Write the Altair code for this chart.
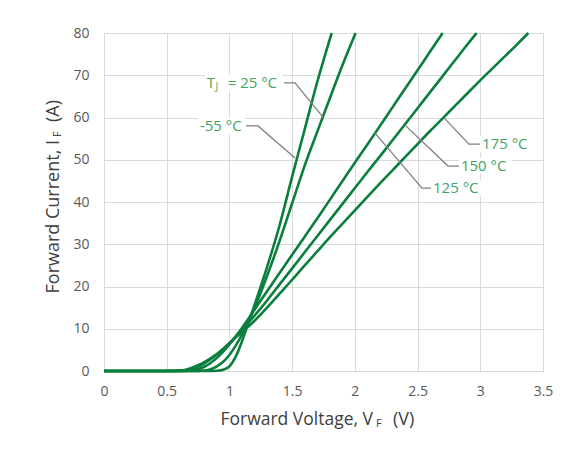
import altair as alt
import pandas as pd

# ---------------- data ----------------
v_m55 = [0, 0.5, 0.85, 0.9, 0.95, 1.0, 1.05, 1.1, 1.15, 1.2, 1.25, 1.3, 1.4, 1.5, 1.6, 1.7, 1.815]
i_m55 = [0, 0, 0, 0.05, 0.3, 1.1, 3.4, 7.0, 11.3, 15.6, 20.0, 24.6, 34.5, 46.0, 57.2, 68.4, 80]

v_25 = [0, 0.5, 0.75, 0.8, 0.85, 0.9, 0.95, 1.0, 1.05, 1.1, 1.15, 1.2, 1.3, 1.4, 1.5, 1.6, 1.7, 1.8, 1.9, 2.006]
i_25 = [0, 0, 0, 0.1, 0.4, 1.1, 2.2, 3.8, 6.0, 8.6, 11.6, 14.9, 22.5, 30.8, 39.7, 48.6, 56.6, 64.5, 72.3, 80]

v_125 = [0, 0.5, 0.65, 0.7, 0.75, 0.8, 0.85, 0.9, 0.95, 1.0, 1.05, 1.1, 1.15, 1.2, 1.3, 1.4, 1.5,
         1.6, 1.7, 1.8, 1.9, 2.0, 2.1, 2.2, 2.3, 2.4, 2.5, 2.6, 2.70]
i_125 = [0, 0, 0.02, 0.1, 0.4, 1.0, 1.9, 3.1, 4.6, 6.3, 8.2, 10.2, 12.3, 14.5, 18.9, 23.2, 27.5,
         31.8, 36.1, 40.5, 44.9, 49.3, 53.6, 58.0, 62.4, 66.8, 71.2, 75.6, 80]

v_150 = [0, 0.5, 0.6, 0.65, 0.7, 0.75, 0.8, 0.85, 0.9, 0.95, 1.0, 1.05, 1.1, 1.15, 1.2, 1.3, 1.4, 1.5,
         1.6, 1.7, 1.8, 1.9, 2.0, 2.1, 2.2, 2.3, 2.4, 2.5, 2.6, 2.7, 2.8, 2.9, 2.971]
i_150 = [0, 0, 0.03, 0.15, 0.45, 1.0, 1.8, 2.8, 3.9, 5.2, 6.6, 8.1, 9.7, 11.4, 13.1, 16.7, 20.5, 24.3,
         28.1, 31.9, 35.7, 39.5, 43.3, 47.1, 50.8, 54.6, 58.4, 62.2, 66.0, 69.8, 73.6, 77.4, 80]

v_175 = [0, 0.5, 0.55, 0.6, 0.65, 0.7, 0.75, 0.8, 0.85, 0.9, 0.95, 1.0, 1.05, 1.1, 1.15, 1.2, 1.3, 1.4,
         1.5, 1.6, 1.7, 1.8, 1.9, 2.0, 2.1, 2.2, 2.3, 2.4, 2.5, 2.6, 2.7, 2.8, 2.9, 3.0, 3.1, 3.2, 3.3, 3.383]
i_175 = [0, 0, 0.02, 0.1, 0.3, 0.75, 1.35, 2.1, 3.0, 4.0, 5.2, 6.6, 7.9, 9.2, 10.5, 11.9, 15.0, 18.3,
         21.6, 25.0, 28.3, 31.6, 34.8, 38.0, 41.2, 44.4, 47.5, 50.6, 53.7, 56.8, 59.8, 62.8, 65.8, 68.8,
         71.7, 74.6, 77.5, 80]

series_names = ["-55 °C", "25 °C", "125 °C", "150 °C", "175 °C"]
series_v = [v_m55, v_25, v_125, v_150, v_175]
series_i = [i_m55, i_25, i_125, i_150, i_175]

x_ticks = [0, 0.5, 1, 1.5, 2, 2.5, 3, 3.5]
y_ticks = [0, 10, 20, 30, 40, 50, 60, 70, 80]

# annotation labels (text, anchor V, anchor I)
label_text = ["T", "= 25 °C", "-55 °C", "175 °C", "150 °C", "125 °C"]
label_v = [0.82, 0.986, 0.765, 3.014, 2.846, 2.623]
label_i = [68.2, 68.2, 58.0, 53.7, 48.5, 43.3]
sub_text = ["J"]
sub_v = [0.889]
sub_i = [68.2]

# leader lines: label id, points (V, I)
leader_ids = ["25", "-55", "175", "150", "125"]
leader_v = [[1.435, 1.523, 1.746], [1.132, 1.228, 1.523], [2.711, 2.910, 2.998],
            [2.400, 2.743, 2.830], [2.161, 2.535, 2.607]]
leader_i = [[68.2, 68.2, 60.1], [58.0, 58.0, 50.4], [59.9, 53.7, 53.7],
            [58.2, 48.5, 48.5], [56.3, 43.3, 43.3]]

# white boxes behind labels (V1, V2, I1, I2)
box_v1 = [0.805, 0.749, 2.998, 2.830, 2.607]
box_v2 = [1.419, 1.124, 3.420, 3.250, 3.030]
box_i1 = [66.3, 56.1, 51.8, 46.6, 41.4]
box_i2 = [70.1, 59.9, 55.6, 50.4, 45.2]

# ---------------- tables ----------------
df = pd.DataFrame([
    {"series": s, "v": v, "i": i}
    for s, vs, is_ in zip(series_names, series_v, series_i)
    for v, i in zip(vs, is_)
])
df_lab = pd.DataFrame({"text": label_text, "v": label_v, "i": label_i})
df_sub = pd.DataFrame({"text": sub_text, "v": sub_v, "i": sub_i})
df_lead = pd.DataFrame([
    {"id": lid, "k": k, "v": v, "i": i}
    for lid, vs, is_ in zip(leader_ids, leader_v, leader_i)
    for k, (v, i) in enumerate(zip(vs, is_))
])
df_box = pd.DataFrame({"v1": box_v1, "v2": box_v2, "i1": box_i1, "i2": box_i2})

# ---------------- style ----------------
GREEN = "#0a7f3c"
LABEL_GREEN = "#43a463"
GRAY = "#7f7f7f"
FONT = "Open Sans"
TITLE_COLOR = "#404040"

xs = alt.Scale(domain=[0, 3.5], nice=False, zero=False)
ys = alt.Scale(domain=[0, 80], nice=False)

x_axis = alt.Axis(values=x_ticks, format="~g", title=None, grid=True, gridColor="#d9d9d9",
                  domain=False, ticks=False, tickSize=0, labelFont=FONT, labelFontSize=14,
                  labelColor="#595959", labelPadding=13, labelFlush=False)
y_axis = alt.Axis(values=y_ticks, title=None, grid=True, gridColor="#d9d9d9",
                  domain=False, ticks=False, tickSize=0, labelFont=FONT, labelFontSize=14,
                  labelColor="#595959", labelPadding=15, labelFlush=False)


def X(field):
    return alt.X(field, scale=xs, axis=x_axis, title=None)


def Y(field):
    return alt.Y(field, scale=ys, axis=y_axis, title=None)


curves = alt.Chart(df).mark_line(color=GREEN, strokeWidth=2.6, interpolate="monotone").encode(
    x=X("v:Q"), y=Y("i:Q"), detail="series:N", order="v:Q",
)

boxes = alt.Chart(df_box).mark_rect(fill="white").encode(
    x=X("v1:Q"), x2="v2:Q", y=Y("i1:Q"), y2="i2:Q",
)

leaders = alt.Chart(df_lead).mark_line(color=GRAY, strokeWidth=1.3).encode(
    x=X("v:Q"), y=Y("i:Q"), detail="id:N", order="k:Q",
)

labels = alt.Chart(df_lab).mark_text(align="left", baseline="middle", font=FONT, fontSize=15,
                                     color=LABEL_GREEN).encode(
    x=X("v:Q"), y=Y("i:Q"), text="text:N",
)
subs = alt.Chart(df_sub).mark_text(align="left", baseline="middle", font=FONT, fontSize=10,
                                   color=LABEL_GREEN, dy=4).encode(
    x=X("v:Q"), y=Y("i:Q"), text="text:N",
)


def title_part(txt, x, y, size, align, angle=0):
    return alt.Chart(pd.DataFrame({"t": [txt]})).mark_text(
        align=align, baseline="middle", font=FONT, fontSize=size, color=TITLE_COLOR, angle=angle
    ).encode(x=alt.value(x), y=alt.value(y), text="t:N")


# x-axis title: Forward Voltage, V_F (V)
xt1 = title_part("Forward Voltage, V", 269, 386.5, 17.5, "right")
xt2 = title_part("F", 272, 391, 11, "left")
xt3 = title_part("(V)", 289, 386.5, 18, "left")
# y-axis title: Forward Current, I_F (A)
yt1 = title_part("Forward Current, I", -50, 107, 18, "right", 270)
yt2 = title_part("F", -46, 104, 11, "left", 270)
yt3 = title_part("(A)", -50, 89, 18, "left", 270)

chart = alt.layer(
    curves, boxes, leaders, labels, subs, xt1, xt2, xt3, yt1, yt2, yt3
).properties(
    width=439, height=338,
    autosize=alt.AutoSizeParams(type="none"),
    padding={"left": 96, "top": 25, "right": 29, "bottom": 87},
).configure_view(
    stroke="#d9d9d9", strokeWidth=1
).configure(
    background="white"
)

chart.save("out.html", embed_options={"renderer": "svg", "actions": False})
